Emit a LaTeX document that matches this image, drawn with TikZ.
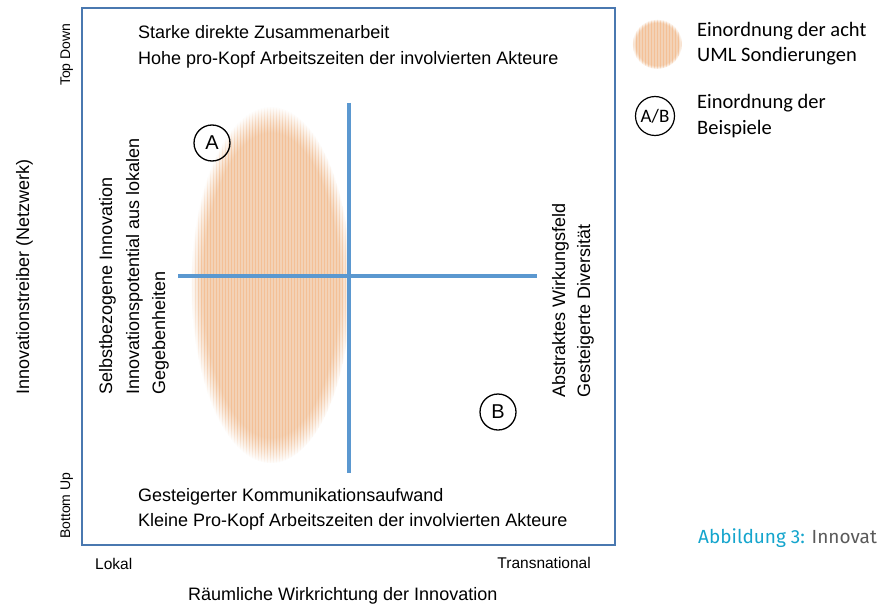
\documentclass[tikz,border=0pt]{standalone}
\usepackage{fontspec}
\setmainfont{Liberation Sans}
\newfontfamily\calfont{Carlito}
\newfontfamily\capfont{Fira Sans}
\usetikzlibrary{fadings,patterns}
\definecolor{framecol}{RGB}{74,120,176}
\definecolor{crosscol}{RGB}{91,152,208}
\definecolor{ellcol}{RGB}{243,210,182}
\definecolor{dotcol}{RGB}{236,150,80}
\definecolor{capblue}{RGB}{20,165,205}
\definecolor{capgray}{RGB}{90,90,90}
\tikzset{
  txt/.style={inner sep=0pt, font=\fontsize{18}{21}\selectfont},
  small/.style={inner sep=0pt, font=\fontsize{14}{16}\selectfont},
  mid/.style={inner sep=0pt, font=\fontsize{15.5}{18}\selectfont},
  leg/.style={inner sep=0pt, font=\calfont\fontsize{20.5}{24}\selectfont},
  lbl/.style={circle, draw, line width=1.3pt, minimum size=36pt, inner sep=0pt, font=\fontsize{20}{22}\selectfont},
  crossline/.style={crosscol, line width=4pt},
  blob/.style={fill=ellcol, path fading=circle with fuzzy edge 15 percent},
  blobdots/.style={pattern=vertical lines, pattern color=dotcol!60, path fading=circle with fuzzy edge 15 percent},
}
\begin{document}
\begin{tikzpicture}[x=1pt,y=-1pt]
\useasboundingbox[fill=white] (0,0) rectangle (877,607);
% frame
\draw[framecol, line width=1.3pt] (82,8) rectangle (615,545);
% ellipse
\fill[blob] (271,285) ellipse [x radius=80, y radius=178];
\fill[blobdots] (271,285) ellipse [x radius=80, y radius=178];
% cross
\coordinate (vt) at (349,103);
\coordinate (vb) at (349,473);
\coordinate (hl) at (178,276);
\coordinate (hr) at (537,276);
\draw[crossline] (vt) -- (vb);
\draw[crossline] (hl) -- (hr);
% circles
\node[lbl] (A) at (212,143) {A};
\node[lbl] (B) at (498,412) {B};
% top/bottom texts
\node[txt, anchor=base west] (t1) at (138,39) {Starke direkte Zusammenarbeit};
\node[txt, anchor=base west] (t2) at (138,65) {Hohe pro-Kopf Arbeitszeiten der involvierten Akteure};
\node[txt, anchor=base west] (b1) at (138,501) {Gesteigerter Kommunikationsaufwand};
\node[txt, anchor=base west] (b2) at (138,526) {Kleine Pro-Kopf Arbeitszeiten der involvierten Akteure};
% left rotated texts
\node[txt, rotate=90, anchor=base west] (l1) at (112,395) {Selbstbezogene Innovation};
\node[txt, rotate=90, anchor=base west] (l2) at (139,395) {Innovationspotential aus lokalen};
\node[txt, rotate=90, anchor=base west] (l3) at (165,395) {Gegebenheiten};
% right rotated texts
\node[txt, rotate=90, anchor=base west] (r1) at (565,398) {Abstraktes Wirkungsfeld};
\node[txt, rotate=90, anchor=base west] (r2) at (590,398) {Gesteigerte Diversität};
% axis labels
\node[small, rotate=90, anchor=base west] (td) at (70,86) {Top Down};
\node[small, rotate=90, anchor=base west] (bu) at (70,539) {Bottom Up};
\node[txt, rotate=90, anchor=base west] (ya) at (29,395) {Innovationstreiber (Netzwerk)};
\node[mid, anchor=base west] (lok) at (95,569) {Lokal};
\node[mid, anchor=base east] (tra) at (591,568) {Transnational};
\node[txt, anchor=base west] (xa) at (188,600) {Räumliche Wirkrichtung der Innovation};
% legend
\fill[blob] (657,44) circle (25);
\fill[blobdots] (657,44) circle (25);
\node[leg, anchor=base west] (lg1) at (697,37) {Einordnung der acht};
\node[leg, anchor=base west] (lg2) at (697,62) {UML Sondierungen};
\node[circle, draw, line width=1.2pt, minimum size=39pt, inner sep=0pt, font=\calfont\fontsize{19}{22}\selectfont] (ab) at (655,116) {A/B};
\node[leg, anchor=base west] (lg3) at (697,109) {Einordnung der};
\node[leg, anchor=base west] (lg4) at (697,134) {Beispiele};
% caption
\node[inner sep=0pt, anchor=base west, font=\capfont\fontsize{19}{22}\selectfont] (cap) at (698,543) {\textcolor{capblue}{Abbildung 3:} \textcolor{capgray}{Innovat}};
\end{tikzpicture}
\end{document}
